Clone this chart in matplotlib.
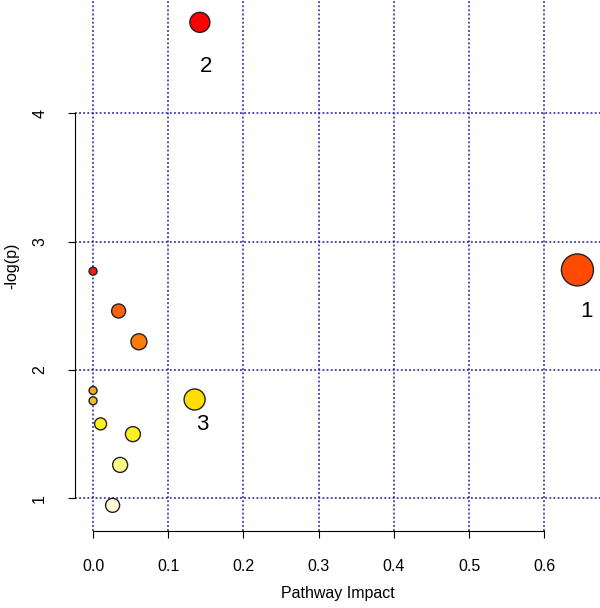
import matplotlib.pyplot as plt

plt.rcParams['font.family'] = ['Liberation Sans', 'DejaVu Sans']

# Dados (impacto da via x -log(p))
impacto = [0.644, 0.142, 0.135, 0.000, 0.034, 0.061, 0.000, 0.000,
           0.010, 0.053, 0.036, 0.026]
log_p = [2.78, 4.71, 1.77, 2.77, 2.46, 2.22, 1.84, 1.76,
         1.58, 1.50, 1.26, 0.945]
raio_px = [16, 10, 10.5, 4, 7, 8, 4, 4, 6, 7.5, 7.5, 7]
cores = ['#FF4A00', '#FF0000', '#FFDE00', '#E82010', '#FF6008', '#FF7A08',
         '#F8A822', '#F8B628', '#FFF21A', '#FFEE22', '#FFFA88', '#FFFCD6']
rotulos = {0: '1', 1: '2', 2: '3'}
deslocamento = {0: (6.5, -30), 1: (4.3, -32), 2: (5.8, -18)}

fig = plt.figure(figsize=(6.0, 6.08), dpi=100)
ax = fig.add_axes([75 / 600, 77 / 608, 525 / 600, 531 / 608])

ax.set_xlim(-0.024, 0.674)
ax.set_ylim(0.745, 4.884)

# Grade pontilhada azul
estilo_grade = dict(color='#1A1AA0', linestyle=(0, (1.2, 1.5)), linewidth=1.1, zorder=1)
for xv in [0, 0.1, 0.2, 0.3, 0.4, 0.5, 0.6]:
    ax.axvline(xv, **estilo_grade)
for yv in [1, 2, 3, 4]:
    ax.axhline(yv, **estilo_grade)

tamanhos = [(2 * r * 0.72) ** 2 for r in raio_px]
ax.scatter(impacto, log_p, s=tamanhos, c=cores, edgecolors='#222222',
           linewidths=1.0, zorder=3)

for i, txt in rotulos.items():
    ax.annotate(txt, (impacto[i], log_p[i]), xytext=deslocamento[i],
                textcoords='offset points', fontsize=16, ha='center', va='center')

# Eixos no estilo do R
for lado in ['top', 'right']:
    ax.spines[lado].set_visible(False)
ax.spines['left'].set_bounds(1, 4)
ax.spines['bottom'].set_bounds(0, 0.6)
ax.set_xticks([0, 0.1, 0.2, 0.3, 0.4, 0.5, 0.6])
ax.set_xticklabels(['0.0', '0.1', '0.2', '0.3', '0.4', '0.5', '0.6'])
ax.set_yticks([1, 2, 3, 4])
ax.set_yticklabels(['1', '2', '3', '4'], rotation=90, va='center')
ax.tick_params(axis='x', length=5, pad=15, labelsize=11.5)
ax.tick_params(axis='y', length=5, pad=15, labelsize=11.5)

ax.set_xlabel('Pathway Impact', fontsize=11.5, va='center')
ax.set_ylabel('-log(p)', fontsize=11.5, va='center')
ax.xaxis.set_label_coords(0.5, -0.117)
ax.yaxis.set_label_coords(-0.12, 0.5)

plt.savefig('out.png', dpi=100)
plt.close()
